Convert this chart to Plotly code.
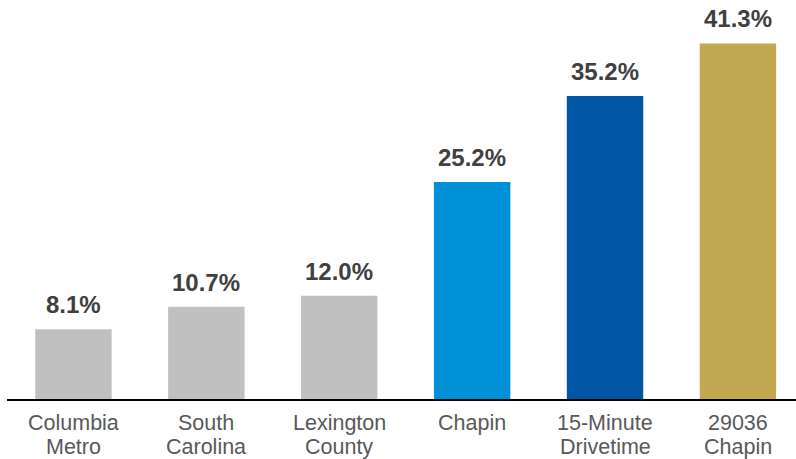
import plotly.graph_objects as go

# Share of population by area
categories = ["Columbia<br>Metro", "South<br>Carolina", "Lexington<br>County",
              "Chapin", "15-Minute<br>Drivetime", "29036<br>Chapin"]
values = [8.1, 10.7, 12.0, 25.2, 35.2, 41.3]
bar_colors = ["#C0C0C0", "#C0C0C0", "#C0C0C0", "#0090D7", "#0055A5", "#C2A850"]

FONT = "Liberation Sans, Arial, Helvetica, sans-serif"

fig = go.Figure(
    go.Bar(
        x=categories,
        y=values,
        marker=dict(color=bar_colors, line=dict(width=0)),
        width=0.575,
        hoverinfo="skip",
    )
)

annotations = []
# value labels above each bar
for cat, v in zip(categories, values):
    annotations.append(dict(
        x=cat, y=v, xref="x", yref="y",
        text=f"<b>{v:.1f}%</b>", showarrow=False,
        yanchor="bottom", yshift=9,
        font=dict(family=FONT, size=24, color="#404040"),
    ))

# category names under the axis, one line per annotation
for cat in categories:
    lines = cat.split("<br>")
    for i, line in enumerate(lines):
        annotations.append(dict(
            x=cat, y=0, xref="x", yref="paper",
            text=line, showarrow=False,
            yanchor="top", yshift=-11 - 24 * i, borderpad=0,
            font=dict(family=FONT, size=21.5, color="#595959"),
        ))

fig.update_layout(
    width=796, height=459,
    margin=dict(l=7, r=0, t=0, b=60),
    paper_bgcolor="white", plot_bgcolor="white",
    showlegend=False,
    annotations=annotations,
    xaxis=dict(
        type="category",
        range=[-0.5, 5.437],
        showticklabels=False,
        showgrid=False, zeroline=False, ticks="",
        showline=True, linecolor="black", linewidth=2,
    ),
    yaxis=dict(
        range=[0, 46.34],
        visible=False, showgrid=False, zeroline=False,
    ),
)

fig.write_html("out.html")
